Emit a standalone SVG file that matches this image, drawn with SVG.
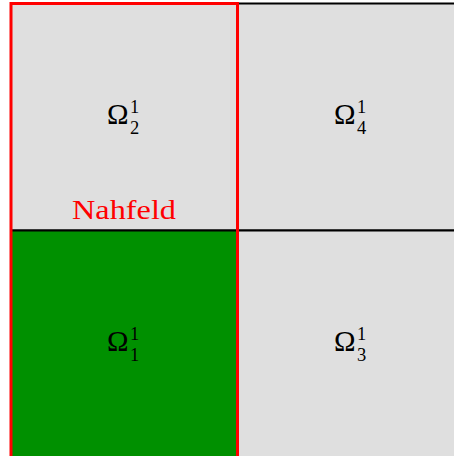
<svg xmlns="http://www.w3.org/2000/svg" width="454" height="456" viewBox="0 0 454 456">
<style>
.cell{fill:#dfdfdf;stroke:#000;stroke-width:2}
.near{fill:#009000;stroke:#000;stroke-width:2}
.om{font-family:"Liberation Serif","DejaVu Serif",serif;font-size:29px;fill:#000}
.ix{font-family:"Liberation Serif","DejaVu Serif",serif;font-size:18.5px;fill:#000}
.lab{font-family:"Liberation Serif","DejaVu Serif",serif;font-size:28px;fill:#ff0000}
</style>
<rect width="454" height="456" fill="#fff"/>
<g id="omega2">
<rect class="cell" x="11" y="3.5" width="226.5" height="227"/>
<text class="om" x="107" y="124">Ω</text><text class="ix" x="130" y="113">1</text><text class="ix" x="130" y="134">2</text>
</g>
<g id="omega4">
<rect class="cell" x="237.5" y="3.5" width="227" height="227"/>
<text class="om" x="334" y="124">Ω</text><text class="ix" x="357" y="113">1</text><text class="ix" x="357" y="134">4</text>
</g>
<g id="omega1">
<rect class="near" x="11" y="230.5" width="226.5" height="227"/>
<text class="om" x="107" y="351">Ω</text><text class="ix" x="130" y="340">1</text><text class="ix" x="130" y="361">1</text>
</g>
<g id="omega3">
<rect class="cell" x="237.5" y="230.5" width="227" height="227"/>
<text class="om" x="334" y="351">Ω</text><text class="ix" x="357" y="340">1</text><text class="ix" x="357" y="361">3</text>
</g>
<g id="nahfeld">
<rect x="11" y="3.5" width="226.5" height="456" fill="none" stroke="#ff0000" stroke-width="3"/>
<text class="lab" x="124" y="219" text-anchor="middle" textLength="104" lengthAdjust="spacingAndGlyphs">Nahfeld</text>
</g>
<g id="connectors"></g>
</svg>
